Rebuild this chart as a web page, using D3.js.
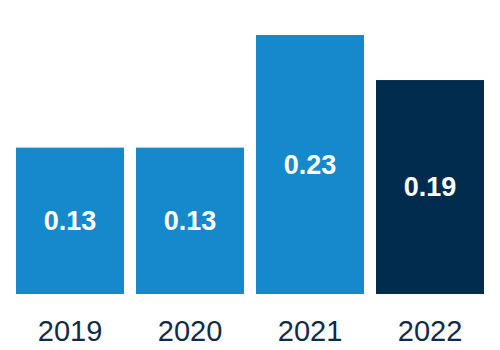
<!DOCTYPE html>
<html>
<head>
<meta charset="utf-8">
<script src="https://cdn.jsdelivr.net/npm/d3@7"></script>
<style>
  html, body { margin: 0; padding: 0; background: #ffffff; }
  svg { display: block; }
</style>
</head>
<body>
<svg id="chart" width="500" height="350"></svg>
<script>
const categories = ["2019", "2020", "2021", "2022"];
const values = [0.13, 0.13, 0.23, 0.19];
const valueLabels = ["0.13", "0.13", "0.23", "0.19"];
const barColors = ["#1589CB", "#1589CB", "#1589CB", "#012C4E"];

const svg = d3.select("#chart");
const W = 500, H = 350;

const x = d3.scaleBand()
  .domain(categories)
  .range([10, 490])
  .paddingInner(0.1)
  .paddingOuter(0.05);

const y = d3.scaleLinear()
  .domain([0, 0.23])
  .range([294, 35]);

const data = categories.map((c, i) => ({ cat: c, val: values[i], label: valueLabels[i], color: barColors[i] }));

svg.selectAll("rect.bar")
  .data(data)
  .join("rect")
  .attr("class", "bar")
  .attr("x", d => x(d.cat))
  .attr("y", d => y(d.val))
  .attr("width", x.bandwidth())
  .attr("height", d => y(0) - y(d.val))
  .attr("fill", d => d.color);

svg.selectAll("text.val")
  .data(data)
  .join("text")
  .attr("class", "val")
  .attr("x", d => x(d.cat) + x.bandwidth() / 2)
  .attr("y", d => (y(d.val) + y(0)) / 2)
  .attr("dy", "0.35em")
  .attr("text-anchor", "middle")
  .attr("font-family", "'Liberation Sans', Arial, sans-serif")
  .attr("font-weight", "bold")
  .attr("font-size", 27)
  .attr("fill", "#ffffff")
  .text(d => d.label);

const xAxis = d3.axisBottom(x).tickSize(0).tickPadding(0);
const gx = svg.append("g")
  .attr("transform", "translate(0,320)")
  .call(xAxis);
gx.select(".domain").remove();
gx.selectAll("text")
  .attr("dy", "0.71em")
  .attr("font-family", "'Liberation Sans', Arial, sans-serif")
  .attr("font-size", 29)
  .attr("fill", "#0E2C4A");
</script>
</body>
</html>
